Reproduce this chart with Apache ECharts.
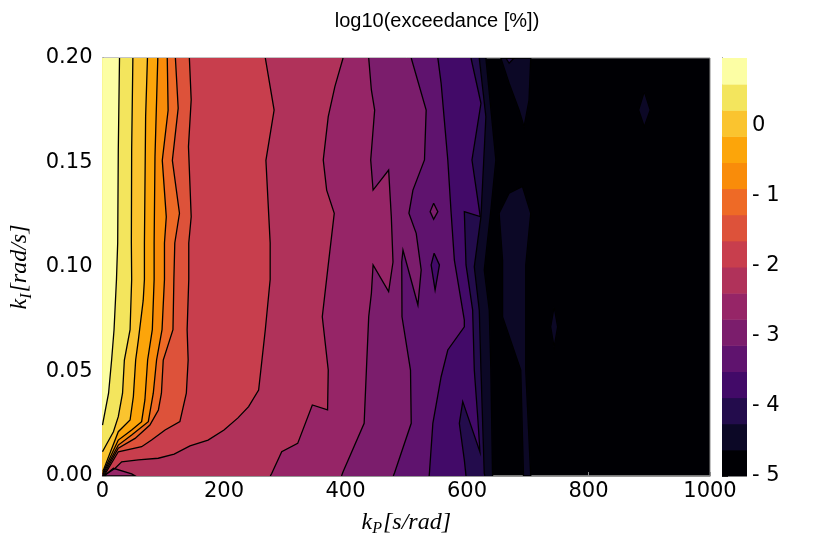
<!DOCTYPE html>
<html>
<head>
<meta charset="utf-8">
<title>log10(exceedance [%])</title>
<script src="https://cdn.jsdelivr.net/npm/echarts@6/dist/echarts.min.js"></script>
<style>
html, body { margin: 0; padding: 0; background: #fff; }
#contourChart { width: 830px; height: 554px; }
</style>
</head>
<body>
<div id="contourChart"></div>
<script>
/* 坐标范围 */
var kPMax = 1000;
var kIMax = 0.2;

/* 色阶分界, 16 个色带 */
var levels = [-5, -4.627, -4.254, -3.881, -3.508, -3.135, -2.762, -2.389, -2.016,
              -1.643, -1.270, -0.897, -0.524, -0.151, 0.222, 0.595, 0.968];

/* 色带颜色 (inferno), 从低到高 */
var bandColors = ['#000004', '#0c0826', '#230c4c', '#420a68', '#5f136e', '#7b1d6c',
                  '#962567', '#b0325a', '#c83e4d', '#dd523a', '#ee6a26', '#f98c0a',
                  '#fca50a', '#fac42f', '#f3e55d', '#fcfea4'];

/* 色条刻度 */
var cbTicks = [-5, -4, -3, -2, -1, 0];
var cbTickLabels = ['- 5', '- 4', '- 3', '- 2', '- 1', '0'];

/* 等值线 [kP, kI], 从上 (kI=0.2) 到下; line1 为最低等级 */
var line1 = [[631.1,0.2],[647.5,0.1512],[639.3,0.1273],[628.4,0.0986],[636.6,0.0794],[639.3,0.0507],[642.1,0]];
var line2 = [[620.2,0.2],[631.1,0.1719],[623,0.1241],[612,0.1001],[620.2,0.0794],[623,0.0507],[628.4,0.0013],[629.5,0]];
var line3 = [[606.6,0.2],[623,0.1783],[608.2,0.1512],[621.8,0.1241],[595.6,0.1265],[598.4,0.101],[609.3,0.0794],
             [612,0.0507],[618,0.0268],[621.3,0.0115],[593,0.0356],[587.4,0.0252],[595.6,0.0077],[598.4,0]];
var line4 = [[552,0.2],[557.4,0.188],[568.4,0.1512],[573.8,0.1262],[579.2,0.1033],[595.6,0.0746],[595.6,0.0714],
             [568.4,0.0603],[557.4,0.0475],[543.8,0.0252],[538.2,0.0016],[537.7,0]];
var line5 = [[508.2,0.2],[532.8,0.1751],[530,0.1512],[511,0.1368],[504.4,0.1257],[516.4,0.1161],[524.6,0.0986],
             [519.2,0.0818],[494.6,0.1081],[492.6,0.1024],[493,0.0762],[507,0.0507],[508.2,0.0252],[480.8,0.0016],[478.7,0]];
var line6 = [[438.2,0.2],[442.6,0.1847],[448,0.1751],[441.5,0.1512],[445.4,0.1368],[471,0.1464],[475.4,0.1241],
             [478.2,0.1024],[471,0.0882],[445.4,0.101],[442.6,0.0874],[438.2,0.0762],[434.4,0.0507],[430.7,0.0252],
             [396.2,0.0021],[393.4,0]];
var line7 = [[396,0.2],[382.5,0.1863],[371.6,0.1719],[363.4,0.1512],[369,0.1368],[381.5,0.1257],[371.6,0.101],
             [361.8,0.0762],[371.6,0.0507],[370.5,0.0316],[345.4,0.034],[321.3,0.0156],[295,0.0116],[278.7,0.0013],[276.2,0]];
var line8 = [[268,0.2],[282.5,0.1751],[269,0.151],[276,0.1115],[276,0.094],[268,0.07],[257,0.0411],[240.5,0.0332],
             [223,0.0278],[200,0.022],[173.8,0.0172],[144,0.0144],[118,0.0105],[91.8,0.0085],[59,0.0077],
             [31.6,0.0068],[20.8,0.0037],[4.4,0.0005],[0,0.0004]];
var line9 = [[143,0.2],[146,0.18],[141.5,0.1576],[146,0.124],[142,0.1115],[142,0.094],[139.3,0.07],[141,0.0555],
             [138,0.0396],[127.4,0.026],[103,0.022],[80.8,0.0172],[64.4,0.014],[26,0.0116],[4.4,0.001],[0,0.0008]];
var line10 = [[120,0.2],[124.6,0.176],[115,0.151],[126.7,0.1257],[119,0.1115],[117.5,0.094],[116,0.07],[100,0.0555],
              [97,0.0396],[92,0.0316],[78,0.0244],[53.6,0.018],[26,0.0133],[3.3,0.0013],[0,0.0011]];
var line11 = [[106.6,0.2],[108,0.175],[98.4,0.151],[105,0.124],[102,0.1115],[102,0.094],[98,0.07],[89,0.0555],
              [83.6,0.0396],[75.4,0.026],[48,0.0196],[26,0.0148],[2.1,0.0016],[0,0.0015]];
var line12 = [[91,0.2],[86.4,0.1528],[85,0.1115],[85,0.094],[82,0.07],[74.3,0.0555],[69.8,0.0364],[64.4,0.026],
              [48,0.022],[26,0.0172],[1.6,0.0021],[0,0.002]];
var line13 = [[74,0.2],[71,0.172],[69,0.1115],[69,0.094],[67,0.084],[59,0.065],[54.6,0.0555],[50.8,0.038],
              [45.4,0.0268],[26,0.0212],[1.6,0.0029],[0,0.0026]];
var line14 = [[50,0.2],[48,0.156],[47.5,0.1115],[48,0.094],[45.4,0.07],[36,0.0555],[33,0.0396],[26,0.0284],
              [18,0.0212],[4.4,0.014],[0,0.0116]];
var line15 = [[28,0.2],[26,0.156],[25,0.1115],[23,0.094],[19,0.07],[15,0.0555],[10,0.0396],[1.6,0.0268],[0,0.0244]];

/* 孤立区域 (闭合), band 为色带序号 */
var islandTopWedge = [[655.7,0.2],[669.3,0.1879],[685.7,0.1751],[693.9,0.1671],[702.1,0.1799],[704.9,0.2]];
var islandTopTip = [[663.9,0.2],[669.3,0.1975],[677.5,0.2]];
var islandStrip = [[652.9,0.1257],[669.3,0.1353],[691.3,0.1385],[704.9,0.1257],[696.7,0.101],[696.7,0.0507],
                   [704.9,0],[693,0],[688.5,0.0507],[658.5,0.0762],[658.5,0.1033]];
var islandLow = [[743.4,0.0809],[749.2,0.0713],[743.4,0.0617],[737.7,0.0713]];
var islandHigh = [[891.8,0.1839],[901.6,0.1751],[891.8,0.1671],[882.5,0.1751]];
var islandDiamond = [[545.1,0.1305],[552,0.1265],[545.1,0.1228],[539.3,0.1265]];
var islandDrop = [[545.9,0.1066],[554.6,0.101],[547.5,0.089],[541,0.101]];
var islandCorner = [[4.4,0.0005],[18,0.0037],[48,0.001],[54.1,0],[0,0]];

var contourLines = [line1, line2, line3, line4, line5, line6, line7, line8,
                    line9, line10, line11, line12, line13, line14, line15];
var islands = [
    {pts: islandTopWedge, band: 1},
    {pts: islandTopTip, band: 2},
    {pts: islandStrip, band: 1},
    {pts: islandLow, band: 1},
    {pts: islandHigh, band: 1},
    {pts: islandDiamond, band: 5},
    {pts: islandDrop, band: 3},
    {pts: islandCorner, band: 6}
];

/**
 * 等值线左侧区域闭合 (沿左边界)
 */
function closeLeft(pts) {
    var last = pts[pts.length - 1];
    return pts.concat([[0, last[1]], [0, kIMax]]);
}

/* 填充区域, 低等级先画 */
var fillShapes = [];
for (var k = 0; k < contourLines.length; k++) {
    fillShapes.push({pts: closeLeft(contourLines[k]), color: bandColors[k + 1]});
}
for (var j = 0; j < islands.length; j++) {
    fillShapes.push({pts: islands[j].pts, color: bandColors[islands[j].band]});
}

/* 描边 */
var strokeShapes = [];
for (var m = 0; m < contourLines.length; m++) {
    strokeShapes.push(contourLines[m]);
}
for (var n = 0; n < islands.length; n++) {
    strokeShapes.push(islands[n].pts.concat([islands[n].pts[0]]));
}

function renderFill(params, api) {
    var s = fillShapes[params.dataIndex];
    var pts = s.pts.map(function (p) { return api.coord(p); });
    return {
        type: 'polygon',
        shape: {points: pts},
        style: {fill: s.color, stroke: s.color, lineWidth: 0.6}
    };
}

function renderStroke(params, api) {
    var pts = strokeShapes[params.dataIndex].map(function (p) { return api.coord(p); });
    return {
        type: 'polyline',
        shape: {points: pts},
        style: {fill: null, stroke: '#000', lineWidth: 1.3}
    };
}

function renderBar(params, api) {
    var i = params.dataIndex;
    var p0 = api.coord([0, levels[i]]);
    var p1 = api.coord([1, levels[i + 1]]);
    return {
        type: 'rect',
        shape: {x: p0[0], y: p1[1], width: p1[0] - p0[0], height: p0[1] - p1[1] + 0.5},
        style: {fill: bandColors[i]}
    };
}

function dummyData(list) {
    return list.map(function () { return [0, 0]; });
}

var sansFont = '"DejaVu Sans", "Liberation Sans", sans-serif';
var mathRich = {
    i: {fontFamily: '"Liberation Serif", serif', fontStyle: 'italic', fontSize: 24, color: '#000'},
    s: {fontFamily: '"Liberation Serif", serif', fontStyle: 'italic', fontSize: 16, color: '#000', padding: [13, 1, 0, 0]}
};

var contourChart = echarts.init(document.getElementById('contourChart'));
var option = {
    animation: false,
    backgroundColor: '#fff',
    title: {
        text: 'log10(exceedance [%])',
        left: 432,
        textAlign: 'center',
        top: 6,
        textStyle: {fontFamily: '"Liberation Sans", Arial, sans-serif', fontSize: 20, fontWeight: 'normal', color: '#000'}
    },
    grid: [
        {left: 100, right: 120, top: 58, bottom: 78, show: true,
         backgroundColor: bandColors[0], borderColor: '#888', borderWidth: 1},
        {left: 722, right: 83, top: 58, bottom: 78}
    ],
    xAxis: [
        {
            gridIndex: 0, type: 'value', min: 0, max: kPMax, interval: 200,
            name: '{i|k}{s|P}{i|[s/rad]}', nameLocation: 'middle', nameGap: 32,
            nameTextStyle: {rich: mathRich},
            axisLine: {show: true, lineStyle: {color: '#888', width: 1.5}},
            axisTick: {show: true, inside: true, length: 4, lineStyle: {color: '#888'}},
            axisLabel: {
                fontFamily: sansFont, fontSize: 21, color: '#000', margin: 5,
                formatter: function (v) { return String(v); }
            },
            splitLine: {show: false}
        },
        {gridIndex: 1, type: 'value', min: 0, max: 1, show: false}
    ],
    yAxis: [
        {
            gridIndex: 0, type: 'value', min: 0, max: kIMax, interval: 0.05,
            name: '{i|k}{s|I}{i|[rad/s]}', nameLocation: 'middle', nameGap: 68, nameRotate: 90,
            nameTextStyle: {rich: mathRich},
            axisLine: {show: true, lineStyle: {color: '#888', width: 1.5}},
            axisTick: {show: true, inside: true, length: 4, lineStyle: {color: '#888'}},
            axisLabel: {
                fontFamily: sansFont, fontSize: 21, color: '#000', margin: 10,
                formatter: function (v) { return v.toFixed(2); }
            },
            splitLine: {show: false}
        },
        {
            gridIndex: 1, type: 'value', position: 'right',
            min: levels[0], max: levels[levels.length - 1], interval: 1,
            axisLine: {show: true, lineStyle: {color: '#333', width: 1}},
            axisTick: {show: true, length: 6, lineStyle: {color: '#333'}},
            axisLabel: {
                fontFamily: sansFont, fontSize: 21, color: '#000', margin: 5,
                showMaxLabel: false,
                formatter: function (v) {
                    var idx = cbTicks.indexOf(Math.round(v));
                    return idx >= 0 ? cbTickLabels[idx] : '';
                }
            },
            splitLine: {show: false}
        }
    ],
    series: [
        {type: 'custom', xAxisIndex: 0, yAxisIndex: 0, renderItem: renderFill,
         data: dummyData(fillShapes), clip: true, silent: true, z: 2},
        {type: 'custom', xAxisIndex: 0, yAxisIndex: 0, renderItem: renderStroke,
         data: dummyData(strokeShapes), clip: true, silent: true, z: 3},
        {type: 'custom', xAxisIndex: 1, yAxisIndex: 1, renderItem: renderBar,
         data: dummyData(bandColors), silent: true, z: 2}
    ]
};
contourChart.setOption(option, true);
window.addEventListener('resize', function () {
    contourChart.resize();
});
</script>
</body>
</html>
